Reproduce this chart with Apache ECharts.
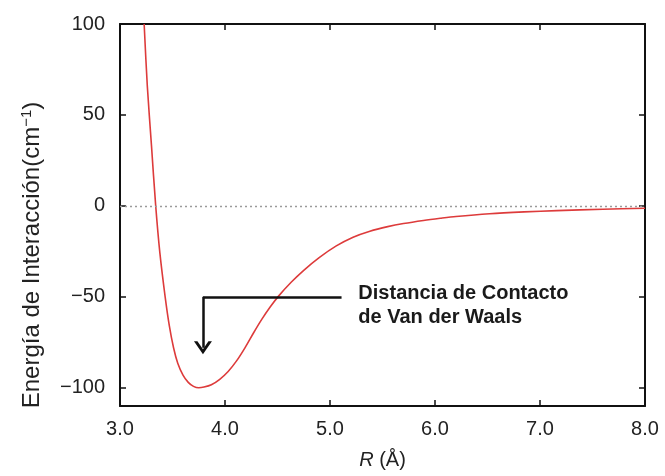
<!DOCTYPE html>
<html>
<head>
<meta charset="utf-8">
<script src="https://cdn.jsdelivr.net/npm/echarts@6/dist/echarts.min.js"></script>
<style>
html,body{margin:0;padding:0;background:#fff;}
#chart{width:665px;height:476px;}
</style>
</head>
<body>
<div id="chart"></div>
<script>
// Distance R (Å)
var rValues = [3.23, 3.26, 3.30, 3.34, 3.38, 3.43, 3.47, 3.51, 3.55, 3.60, 3.65, 3.70, 3.75, 3.80, 3.87, 3.95, 4.03, 4.11, 4.19, 4.27, 4.35, 4.43, 4.51, 4.63, 4.75, 4.90, 5.06, 5.22, 5.38, 5.55, 5.70, 5.89, 6.05, 6.20, 6.52, 6.85, 7.16, 7.60, 8.00];
// Interaction energy (cm^-1)
var energies = [100, 66, 33, 0, -26, -50, -66, -78, -86.5, -93, -97, -99.2, -100, -99.6, -98.3, -95.3, -91, -85.2, -78, -70, -62.4, -55.6, -49.6, -42, -35.4, -28.3, -22, -17.2, -13.9, -11.4, -9.7, -8.0, -6.8, -5.8, -4.3, -3.3, -2.6, -1.8, -1.3];
var xTicks = [3, 4, 5, 6, 7, 8];
var yTicks = [-100, -50, 0, 50, 100];
var annotationText = ['Distancia de Contacto', 'de Van der Waals'];

var FONT = '"Liberation Sans", Arial, Helvetica, sans-serif';
var chart = echarts.init(document.getElementById('chart'), null, {renderer: 'canvas'});

var points = rValues.map(function (r, i) { return [r, energies[i]]; });
function fmtY(v) { return v < 0 ? '\u2212' + Math.abs(v) : String(v); }

var axisLineStyle = {color: '#111', width: 2};
var tickStyle = {color: '#111', width: 1.5};

var chevron = 'path://M0,13 L9,0 L18,13 L14.5,13 L9,5 L3.5,13 Z';

var option = {
  backgroundColor: '#fff',
  animation: false,
  grid: {left: 120, right: 20, top: 24, bottom: 70, containLabel: false},
  xAxis: [
    {
      type: 'value', min: 3, max: 8, interval: 1, position: 'bottom',
      axisLine: {show: true, onZero: false, lineStyle: axisLineStyle},
      axisTick: {show: true, inside: true, length: 6, lineStyle: tickStyle},
      axisLabel: {show: true, formatter: function (v) { return v.toFixed(1); }, fontSize: 20, color: '#222', fontFamily: FONT, margin: 13},
      splitLine: {show: false},
      name: '{i|R} (Å)', nameLocation: 'middle', nameGap: 44,
      nameTextStyle: {fontSize: 20, color: '#222', fontFamily: FONT,
        rich: {i: {fontStyle: 'italic', fontSize: 20, color: '#222', fontFamily: FONT}}}
    },
    {
      type: 'value', min: 3, max: 8, interval: 1, position: 'top',
      axisLine: {show: true, onZero: false, lineStyle: axisLineStyle},
      axisTick: {show: true, inside: true, length: 6, lineStyle: tickStyle},
      axisLabel: {show: false}, splitLine: {show: false}
    }
  ],
  yAxis: [
    {
      type: 'value', min: -110, max: 100, position: 'left',
      axisLine: {show: true, onZero: false, lineStyle: axisLineStyle},
      axisTick: {show: true, inside: true, length: 6, lineStyle: tickStyle, customValues: yTicks},
      axisLabel: {show: true, customValues: yTicks, formatter: fmtY, fontSize: 20, color: '#222', fontFamily: FONT, margin: 15},
      splitLine: {show: false}
    },
    {
      type: 'value', min: -110, max: 100, position: 'right',
      axisLine: {show: true, onZero: false, lineStyle: axisLineStyle},
      axisTick: {show: true, inside: true, length: 6, lineStyle: tickStyle, customValues: yTicks},
      axisLabel: {show: false}, splitLine: {show: false}
    }
  ],
  graphic: [
    {
      type: 'text', x: 32, y: 255, rotation: Math.PI / 2,
      style: {
        text: 'Energía de Interacción(cm{s|\u22121})',
        font: '24px ' + FONT, fill: '#222', align: 'center', verticalAlign: 'middle',
        rich: {s: {fontSize: 15, fontFamily: FONT, fill: '#222', verticalAlign: 'top', padding: [0, 0, 10, 0]}}
      }
    }
  ],
  series: [
    {
      type: 'line', xAxisIndex: 0, yAxisIndex: 0,
      data: points, smooth: 0.3, showSymbol: false, clip: true,
      lineStyle: {color: '#dd3b3b', width: 1.6},
      itemStyle: {color: '#dd3b3b'},
      z: 3,
      markLine: {
        silent: true, animation: false, symbol: 'none',
        label: {show: false},
        data: [
          [{coord: [3, 0], lineStyle: {type: [2, 3], color: '#9a9a9a', width: 1.3}}, {coord: [8, 0]}],
          [{coord: [3.79, -50], lineStyle: {type: 'solid', color: '#111', width: 2.5}}, {coord: [5.11, -50]}],
          [{coord: [3.79, -50], lineStyle: {type: 'solid', color: '#111', width: 2.5}, symbol: 'none'},
           {coord: [3.79, -78], symbol: chevron, symbolSize: [18, 13]}]
        ]
      },
      markPoint: {
        silent: true, animation: false,
        data: [{
          coord: [5.27, -55], symbol: 'circle', symbolSize: 0,
          label: {
            show: true, position: 'inside', align: 'left', verticalAlign: 'middle',
            formatter: annotationText.join('\n'),
            fontSize: 20, fontWeight: 'bold', color: '#1a1a1a', fontFamily: FONT, lineHeight: 24
          }
        }]
      }
    }
  ]
};
chart.setOption(option);
</script>
</body>
</html>
